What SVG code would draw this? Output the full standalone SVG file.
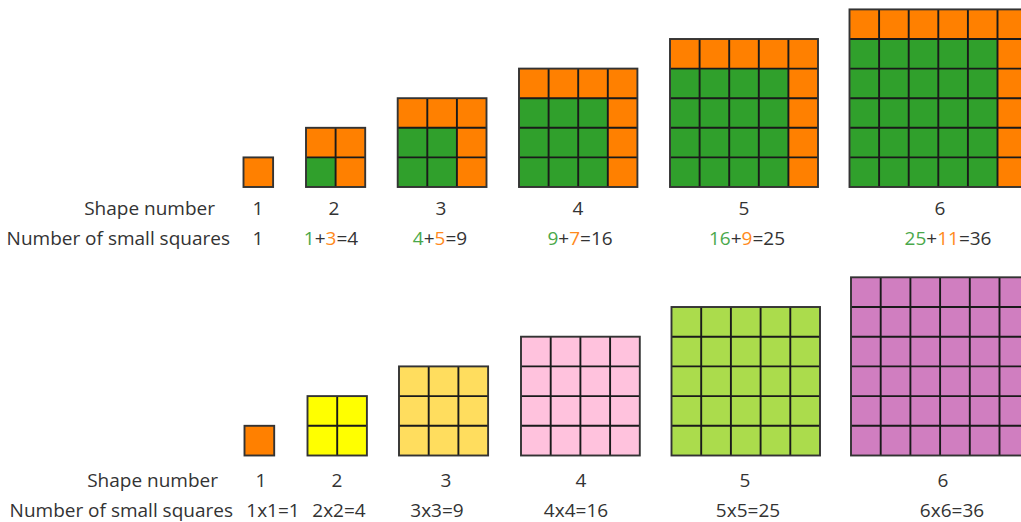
<svg xmlns="http://www.w3.org/2000/svg" width="1021" height="522" viewBox="0 0 1021 522">
<style>
text{font-family:"Open Sans","Noto Sans","Liberation Sans",sans-serif;font-size:19px;fill:#333}
.c{text-anchor:middle}
.e{text-anchor:end}
.g{fill:#4aa84a}
.o{fill:#ff8a1c}
.grid{fill:none;stroke:#1a1a1a;stroke-width:1.9}
.out{fill:none;stroke:#333;stroke-width:1.9}
.or{fill:#ff8000}
.gr{fill:#30a02c}
.ye{fill:#ffff00}
.ly{fill:#ffdd5e}
.pk{fill:#ffc2dd}
.lm{fill:#abdc4c}
.pu{fill:#d07ec0}
</style>
<rect width="1021" height="522" fill="#fff"/>
<g id="top-shape-1">
<rect class="or" x="243.5" y="157.4" width="29.6" height="29.6"/>
<rect class="out" x="243.5" y="157.4" width="29.6" height="29.6"/>
</g>
<g id="top-shape-2">
<rect class="or" x="306" y="127.8" width="59.2" height="59.2"/>
<rect class="gr" x="306" y="157.4" width="29.6" height="29.6"/>
<path class="grid" d="M335.6 127.8V187M306 157.4H365.2"/>
<rect class="out" x="306" y="127.8" width="59.2" height="59.2"/>
</g>
<g id="top-shape-3">
<rect class="or" x="397.7" y="98.2" width="88.8" height="88.8"/>
<rect class="gr" x="397.7" y="127.8" width="59.2" height="59.2"/>
<path class="grid" d="M427.3 98.2V187M456.9 98.2V187M397.7 127.8H486.5M397.7 157.4H486.5"/>
<rect class="out" x="397.7" y="98.2" width="88.8" height="88.8"/>
</g>
<g id="top-shape-4">
<rect class="or" x="519" y="68.6" width="118.4" height="118.4"/>
<rect class="gr" x="519" y="98.2" width="88.8" height="88.8"/>
<path class="grid" d="M548.6 68.6V187M578.2 68.6V187M607.8 68.6V187M519 98.2H637.4M519 127.8H637.4M519 157.4H637.4"/>
<rect class="out" x="519" y="68.6" width="118.4" height="118.4"/>
</g>
<g id="top-shape-5">
<rect class="or" x="670" y="39" width="148" height="148"/>
<rect class="gr" x="670" y="68.6" width="118.4" height="118.4"/>
<path class="grid" d="M699.6 39V187M729.2 39V187M758.8 39V187M788.4 39V187M670 68.6H818M670 98.2H818M670 127.8H818M670 157.4H818"/>
<rect class="out" x="670" y="39" width="148" height="148"/>
</g>
<g id="top-shape-6">
<rect class="or" x="849.5" y="9.4" width="177.6" height="177.6"/>
<rect class="gr" x="849.5" y="39" width="148" height="148"/>
<path class="grid" d="M879.1 9.4V187M908.7 9.4V187M938.3 9.4V187M967.9 9.4V187M997.5 9.4V187M849.5 39H1027.1M849.5 68.6H1027.1M849.5 98.2H1027.1M849.5 127.8H1027.1M849.5 157.4H1027.1"/>
<rect class="out" x="849.5" y="9.4" width="177.6" height="177.6"/>
</g>
<g id="top-labels">
<text class="e" x="215" y="215">Shape number</text>
<text class="e" x="230" y="245">Number of small squares</text>
<text class="c" x="258" y="215">1</text>
<text class="c" x="334" y="215">2</text>
<text class="c" x="441" y="215">3</text>
<text class="c" x="578" y="215">4</text>
<text class="c" x="744" y="215">5</text>
<text class="c" x="940" y="215">6</text>
<text class="c" x="258" y="245">1</text>
<text class="c" x="331" y="245"><tspan class="g">1</tspan>+<tspan class="o">3</tspan>=4</text>
<text class="c" x="440" y="245"><tspan class="g">4</tspan>+<tspan class="o">5</tspan>=9</text>
<text class="c" x="580" y="245"><tspan class="g">9</tspan>+<tspan class="o">7</tspan>=16</text>
<text class="c" x="747" y="245"><tspan class="g">16</tspan>+<tspan class="o">9</tspan>=25</text>
<text class="c" x="948" y="245"><tspan class="g">25</tspan>+<tspan class="o">11</tspan>=36</text>
</g>
<g id="bottom-shape-1">
<rect class="or" x="244.5" y="425.8" width="29.7" height="29.7"/>
<rect class="out" x="244.5" y="425.8" width="29.7" height="29.7"/>
</g>
<g id="bottom-shape-2">
<rect class="ye" x="307.5" y="396.1" width="59.4" height="59.4"/>
<path class="grid" d="M337.2 396.1V455.5M307.5 425.8H366.9"/>
<rect class="out" x="307.5" y="396.1" width="59.4" height="59.4"/>
</g>
<g id="bottom-shape-3">
<rect class="ly" x="399" y="366.4" width="89.1" height="89.1"/>
<path class="grid" d="M428.7 366.4V455.5M458.4 366.4V455.5M399 396.1H488.1M399 425.8H488.1"/>
<rect class="out" x="399" y="366.4" width="89.1" height="89.1"/>
</g>
<g id="bottom-shape-4">
<rect class="pk" x="521" y="336.7" width="118.8" height="118.8"/>
<path class="grid" d="M550.7 336.7V455.5M580.4 336.7V455.5M610.1 336.7V455.5M521 366.4H639.8M521 396.1H639.8M521 425.8H639.8"/>
<rect class="out" x="521" y="336.7" width="118.8" height="118.8"/>
</g>
<g id="bottom-shape-5">
<rect class="lm" x="671.5" y="307" width="148.5" height="148.5"/>
<path class="grid" d="M701.2 307V455.5M730.9 307V455.5M760.6 307V455.5M790.3 307V455.5M671.5 336.7H820M671.5 366.4H820M671.5 396.1H820M671.5 425.8H820"/>
<rect class="out" x="671.5" y="307" width="148.5" height="148.5"/>
</g>
<g id="bottom-shape-6">
<rect class="pu" x="851" y="277.3" width="178.2" height="178.2"/>
<path class="grid" d="M880.7 277.3V455.5M910.4 277.3V455.5M940.1 277.3V455.5M969.8 277.3V455.5M999.5 277.3V455.5M851 307H1029.2M851 336.7H1029.2M851 366.4H1029.2M851 396.1H1029.2M851 425.8H1029.2"/>
<rect class="out" x="851" y="277.3" width="178.2" height="178.2"/>
</g>
<g id="bottom-labels">
<text class="e" x="218" y="487">Shape number</text>
<text class="e" x="233" y="517">Number of small squares</text>
<text class="c" x="261" y="487">1</text>
<text class="c" x="337" y="487">2</text>
<text class="c" x="446" y="487">3</text>
<text class="c" x="581" y="487">4</text>
<text class="c" x="745" y="487">5</text>
<text class="c" x="943" y="487">6</text>
<text class="c" x="273" y="517">1x1=1</text>
<text class="c" x="339" y="517">2x2=4</text>
<text class="c" x="437" y="517">3x3=9</text>
<text class="c" x="576" y="517">4x4=16</text>
<text class="c" x="748" y="517">5x5=25</text>
<text class="c" x="952" y="517">6x6=36</text>
</g>
</svg>
